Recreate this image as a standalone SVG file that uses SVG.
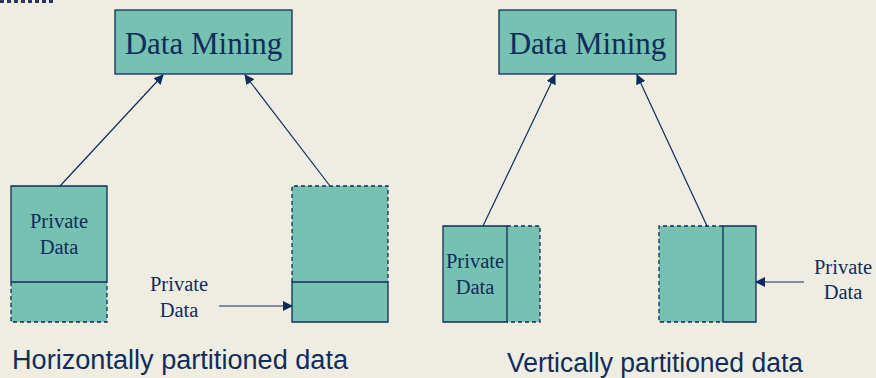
<svg xmlns="http://www.w3.org/2000/svg" width="876" height="378" viewBox="0 0 876 378">
<style>
.box{fill:#76C1B1;stroke:#0F2D5A;stroke-width:1.3}
.fill{fill:#76C1B1;stroke:none}
.solid{fill:none;stroke:#0F2D5A;stroke-width:1.3}
.dash{fill:none;stroke:#0F2D5A;stroke-width:1.3;stroke-dasharray:4,3}
.conn{stroke:#0F2D5A;stroke-width:1.2;fill:none}
.t{font-family:"Liberation Serif","Times New Roman",serif;fill:#0F2D5A;text-anchor:middle}
.big{font-size:31px}
.sm{font-size:20.5px}
.cap{font-family:"Liberation Sans",Arial,sans-serif;font-size:27px;fill:#0F2D5A}
</style>
<defs>
<marker id="ah" viewBox="0 0 10 10" refX="9" refY="5" markerWidth="10" markerHeight="10" markerUnits="userSpaceOnUse" orient="auto">
<path d="M0,0 L10,5 L0,10 Z" fill="#0F2D5A"/>
</marker>
</defs>
<rect x="0" y="0" width="876" height="378" fill="#EFECE1"/>
<line x1="0" y1="1.5" x2="56" y2="1.5" stroke="#2A3560" stroke-width="3" stroke-dasharray="4,3"/>

<g id="dm-left">
<rect class="box" x="115" y="10" width="177" height="64"/>
<text class="t big" x="203.5" y="54">Data Mining</text>
</g>
<g id="dm-right">
<rect class="box" x="499" y="10" width="177" height="64"/>
<text class="t big" x="587.5" y="54">Data Mining</text>
</g>

<g id="h-party1">
<rect class="fill" x="11" y="186" width="96" height="136"/>
<path class="solid" d="M11,282 V186 H107 V282 M11,282 H107"/>
<path class="dash" d="M11,282 V322 H107 V282"/>
<text class="t sm" x="59" y="228">Private</text>
<text class="t sm" x="59" y="254">Data</text>
</g>

<g id="h-party2">
<rect class="fill" x="292" y="186" width="96" height="136"/>
<path class="dash" d="M292,282 V186 H388 V282"/>
<path class="solid" d="M292,282 H388 V322 H292 Z"/>
</g>

<g id="h-label">
<text class="t sm" x="179" y="291">Private</text>
<text class="t sm" x="179" y="317">Data</text>
</g>

<g id="v-party1">
<rect class="fill" x="443" y="226" width="97" height="96"/>
<path class="solid" d="M507,226 H443 V322 H507 Z"/>
<path class="dash" d="M507,226 H540 V322 H507"/>
<text class="t sm" x="475" y="268">Private</text>
<text class="t sm" x="475" y="294">Data</text>
</g>

<g id="v-party2">
<rect class="fill" x="659" y="226" width="97" height="96"/>
<path class="dash" d="M723,226 H659 V322 H723"/>
<path class="solid" d="M723,226 H756 V322 H723 Z"/>
</g>

<g id="v-label">
<text class="t sm" x="843" y="274">Private</text>
<text class="t sm" x="843" y="299">Data</text>
</g>

<g id="captions">
<text class="cap" x="12" y="369" textLength="336" lengthAdjust="spacingAndGlyphs">Horizontally partitioned data</text>
<text class="cap" x="507" y="372" textLength="296" lengthAdjust="spacingAndGlyphs">Vertically partitioned data</text>
</g>

<g id="connectors">
<line class="conn" x1="60" y1="186" x2="163" y2="75" marker-end="url(#ah)"/>
<line class="conn" x1="330" y1="186" x2="245" y2="75" marker-end="url(#ah)"/>
<line class="conn" x1="219" y1="306" x2="292" y2="306" marker-end="url(#ah)"/>
<line class="conn" x1="483" y1="226" x2="555" y2="75" marker-end="url(#ah)"/>
<line class="conn" x1="707" y1="226" x2="637" y2="75" marker-end="url(#ah)"/>
<line class="conn" x1="804" y1="282" x2="756" y2="282" marker-end="url(#ah)"/>
</g>
</svg>
